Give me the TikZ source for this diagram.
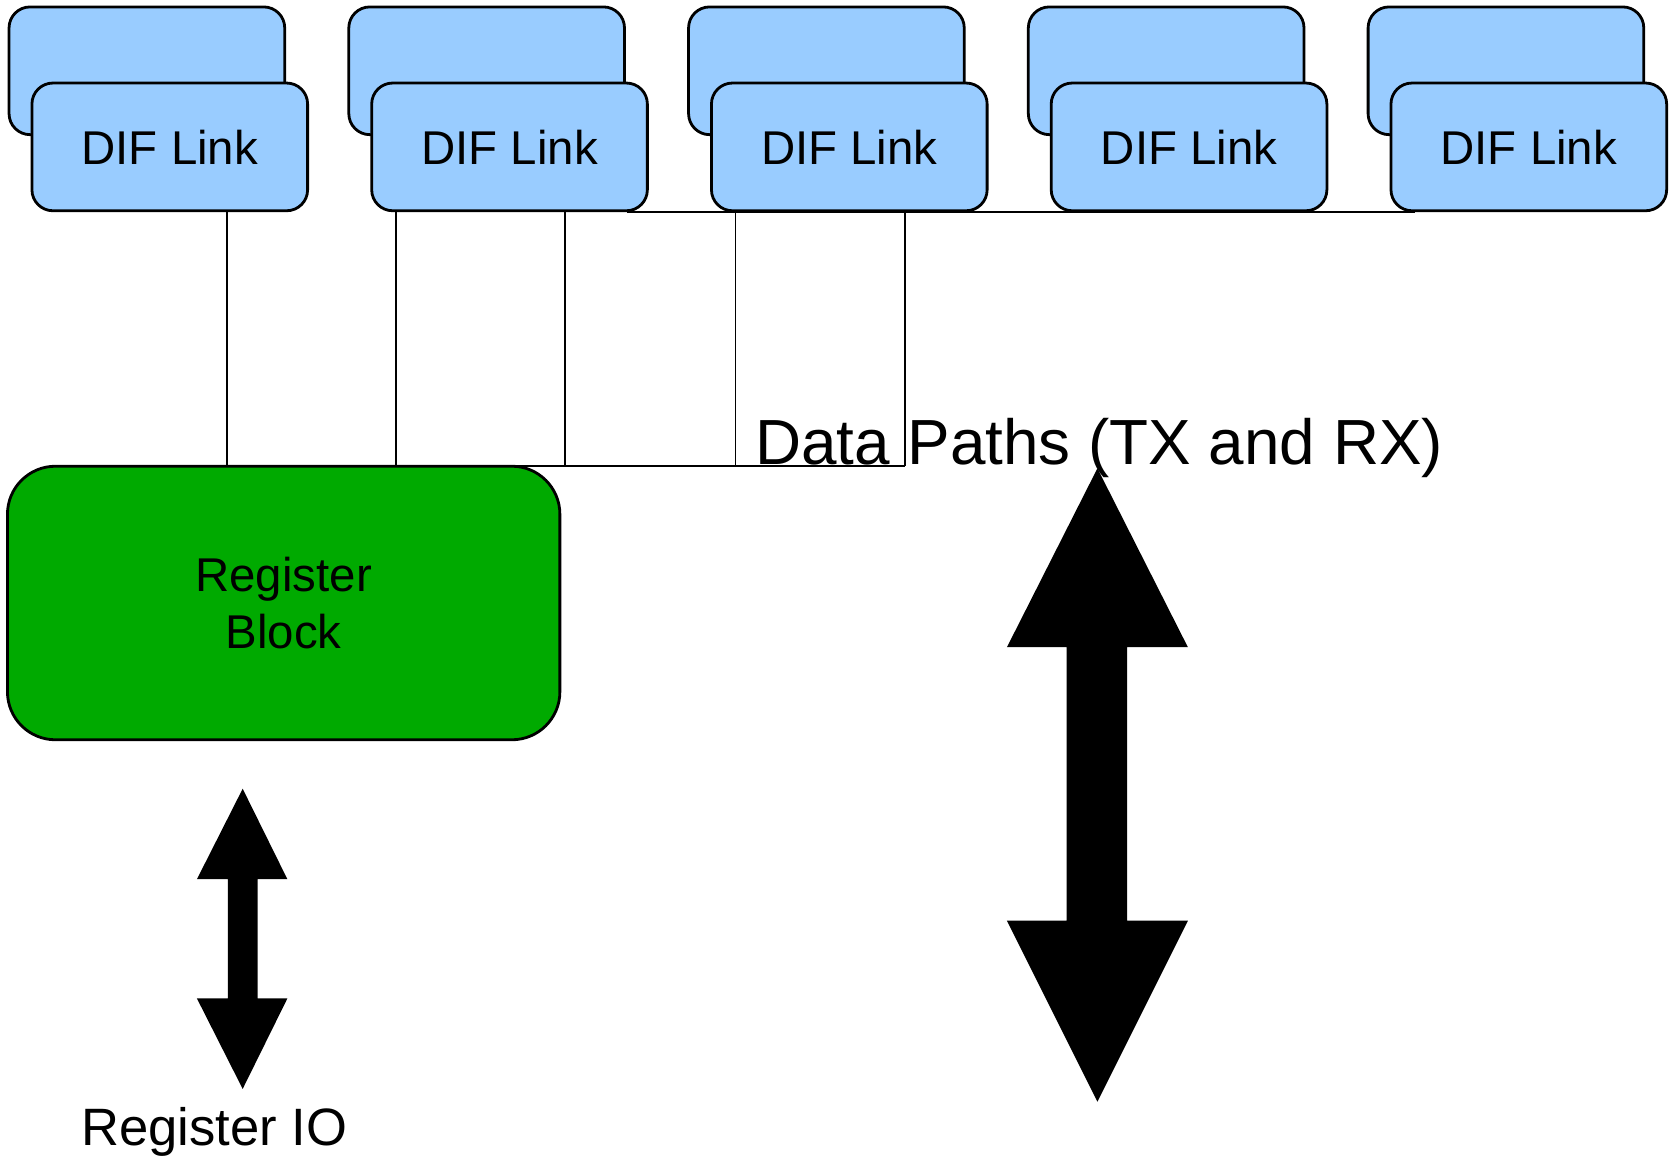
\documentclass[tikz,border=0pt]{standalone}
\usepackage{fontspec}
\setmainfont{Liberation Sans}
\usetikzlibrary{calc}
\definecolor{linkblue}{HTML}{99CCFF}
\definecolor{reggreen}{HTML}{00AA00}
\begin{document}
\begin{tikzpicture}[x=0.5322pt,y=-0.5322pt,
  linkbox/.style={draw=black,line width=1.4pt,fill=linkblue,rounded corners=10.5pt,
    minimum width=259*0.5322pt,minimum height=120*0.5322pt,inner sep=0pt,
    font=\fontsize{23.7}{28}\selectfont},
  regbox/.style={draw=black,line width=1.4pt,fill=reggreen,rounded corners=24pt,
    minimum width=519*0.5322pt,minimum height=257*0.5322pt,inner sep=0pt,align=center,
    font=\fontsize{23.7}{28.2}\selectfont},
  wire/.style={draw=black,line width=0.8pt},
  bigarrow/.style={fill=black,draw=none},
  lbl/.style={inner sep=0pt,anchor=base west}]
\useasboundingbox (0,0) rectangle (1568,1088);
% back boxes
\foreach \i in {1,...,5}{
  \node[linkbox] (b\i) at ({138+319.2*(\i-1)},66.5) {};
}
% front boxes
\foreach \i in {1,...,5}{
  \node[linkbox] (f\i) at ({159.5+319.2*(\i-1)},138) {DIF Link};
}
% register block
\node[regbox] (reg) at (266.5,566.5) {Register\\Block};
% junction coordinates
\coordinate (j1) at (531,438);
\coordinate (j2) at (691,438);
\coordinate (j3) at (850,438);
\coordinate (r1) at (213,438);
\coordinate (r2) at (372,438);
% wires
\draw[wire] (f1.south -| r1) -- (r1);
\draw[wire] (f2.south -| r2) -- (r2);
\draw[wire] (f2.south -| j1) -- (j1);
\draw[wire] (f3.south -| j2) -- (j2);
\draw[wire] (f3.south -| j3) -- (j3);
\draw[wire] (r2) -- (j3);
\draw[wire] ($(f2.south east)+(-20,0)$) -- ($(f5.south west)+(24,0)$);
% labels
\node[lbl] (dp) at (709,436) {\fontsize{31.9}{36}\selectfont Data Paths (TX and RX)};
\node[lbl] (rio) at (76,1076) {\fontsize{26.3}{30}\selectfont Register IO};
% small double arrow
\fill[bigarrow] (228,741) -- (270,826) -- (242,826) -- (242,938) -- (270,938) -- (228,1023)
  -- (185,938) -- (214,938) -- (214,826) -- (185,826) -- cycle;
% big double arrow
\fill[bigarrow] (1031,440) -- (1116,608) -- (1059,608) -- (1059,865) -- (1116,865) -- (1031,1035)
  -- (946,865) -- (1002,865) -- (1002,608) -- (946,608) -- cycle;
\end{tikzpicture}
\end{document}
